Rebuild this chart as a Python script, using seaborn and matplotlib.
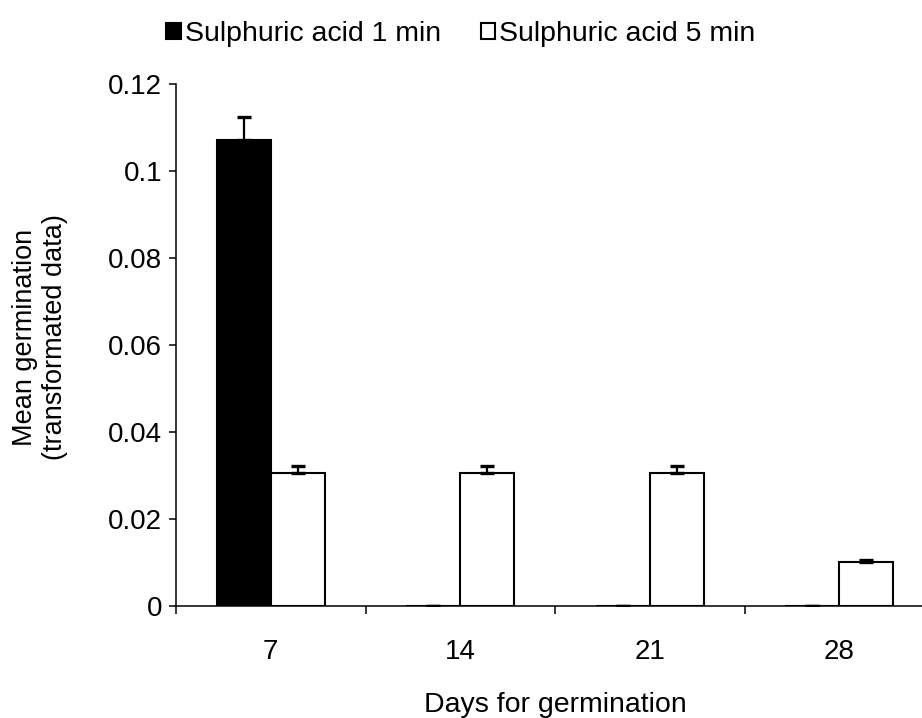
import pandas as pd
import seaborn as sns
import matplotlib.pyplot as plt
from matplotlib.ticker import FixedLocator

plt.rcParams['figure.dpi'] = 100
plt.rcParams['savefig.dpi'] = 100

# Data
days = ["7", "14", "21", "28"]
acid_1min = [0.1071, 0.0, 0.0, 0.0]
acid_1min_err = [0.0052, 0.0, 0.0, 0.0]
acid_5min = [0.0306, 0.0306, 0.0306, 0.0101]
acid_5min_err = [0.0016, 0.0016, 0.0016, 0.0005]
series = ["Sulphuric acid 1 min", "Sulphuric acid 5 min"]

df = pd.concat([
    pd.DataFrame({"day": days, "mean": acid_1min, "err": acid_1min_err, "kind": series[0]}),
    pd.DataFrame({"day": days, "mean": acid_5min, "err": acid_5min_err, "kind": series[1]}),
])

sns.set_theme(style="white")
plt.rcParams['font.family'] = ['Liberation Sans', 'DejaVu Sans']
plt.rcParams['text.color'] = "black"
plt.rcParams['axes.labelcolor'] = "black"
plt.rcParams['xtick.color'] = "black"
plt.rcParams['ytick.color'] = "black"

fig = plt.figure(figsize=(9.22, 7.18))
ax = fig.add_axes([176/922, 1 - 606/718, 758/922, 522/718])

plot = sns.barplot(
    data=df,
    x="day",
    y="mean",
    hue="kind",
    order=days,
    hue_order=series,
    width=0.57,
    palette={series[0]: "black", series[1]: "white"},
    edgecolor="black",
    linewidth=1.5,
    saturation=1,
    errorbar=None,
    ax=ax,
)

# upper error bars only, placed on the drawn bars
for cont, kind in zip(ax.containers, series):
    sub = df[df["kind"] == kind]
    xs = [p.get_x() + p.get_width() / 2 for p in cont.patches]
    ax.errorbar(xs, sub["mean"], yerr=[[0] * len(sub), sub["err"]],
                fmt="none", ecolor="black", elinewidth=1.6, capsize=5, capthick=2.4,
                zorder=1)

ax.set_ylim(0, 0.12)
ax.set_xlim(-0.5, 3.5)
ax.yaxis.set_major_locator(FixedLocator([0, 0.02, 0.04, 0.06, 0.08, 0.1, 0.12]))
ax.set_yticklabels(["0", "0.02", "0.04", "0.06", "0.08", "0.1", "0.12"])
ax.xaxis.set_minor_locator(FixedLocator([-0.5, 0.5, 1.5, 2.5, 3.5]))

for side in ["top", "right"]:
    ax.spines[side].set_visible(False)
for side in ["left", "bottom"]:
    ax.spines[side].set_color("black")
    ax.spines[side].set_linewidth(1.1)

ax.tick_params(axis="y", which="major", direction="out", length=5, width=1.1,
               color="black", labelsize=20, pad=5, left=True)
ax.tick_params(axis="x", which="major", length=0, labelsize=20, pad=24)
ax.tick_params(axis="x", which="minor", direction="out", length=6, width=1.1,
               color="black", bottom=True)

ax.set_xlabel("Days for germination", fontsize=20.5, labelpad=19)
ax.set_ylabel("Mean germination\n(transformated data)", fontsize=19.5)
ax.yaxis.set_label_coords(-0.142, 0.515)

ax.legend(
    title="",
    loc="upper center",
    bbox_to_anchor=(0.5, 1.0),
    bbox_transform=fig.transFigure,
    ncol=2,
    frameon=False,
    fontsize=20.5,
    handlelength=0.5,
    handleheight=0.5,
    handletextpad=0.15,
    columnspacing=1.4,
    borderaxespad=0.35,
)

fig.savefig("out.png")
